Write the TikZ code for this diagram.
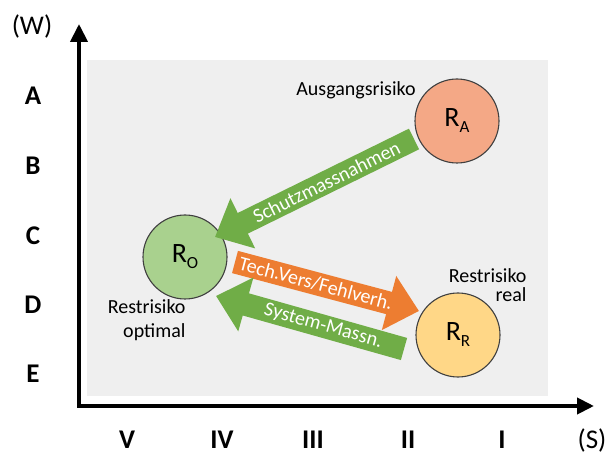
\documentclass[tikz,border=0pt]{standalone}
\usepackage{fontspec}
\setmainfont{Carlito}
\usetikzlibrary{arrows.meta}

\definecolor{panelgray}{HTML}{EFEFEF}
\definecolor{arrowgreen}{HTML}{70AD47}
\definecolor{arroworange}{HTML}{ED7D31}
\definecolor{fillA}{HTML}{F4A886}
\definecolor{fillO}{HTML}{A9D18E}
\definecolor{fillR}{HTML}{FFD787}

% lowered subscript letter for the risk labels
\newcommand\risksub[1]{{\fontsize{17}{17}\selectfont\raisebox{-6pt}{#1}}}

\begin{document}
\begin{tikzpicture}[x=1pt, y=-1pt,
  risk/.style={circle, draw=black!75, line width=1.1pt, minimum size=84pt,
    inner sep=0pt, font=\fontsize{28}{28}\selectfont},
  axislabel/.style={font=\fontsize{27}{27}\selectfont\bfseries},
  axisname/.style={font=\fontsize{27}{27}\selectfont},
  note/.style={font=\fontsize{20}{24}\selectfont, align=right},
  blockarrow/.style={line width=23pt, -{Triangle[length=31pt,width=54pt]}},
  arrowtext/.style={sloped, text=white, font=\fontsize{20}{20}\selectfont},
  axisline/.style={line width=4pt, line join=miter}]

\useasboundingbox (0,0) rectangle (611,457);

% background panel
\fill[panelgray] (87,60) rectangle (548,396);

% axes
\coordinate (origin) at (79,406);
\coordinate (ytop) at (79,24);
\coordinate (xend) at (594,406);
\draw[axisline, {Triangle[length=18pt,width=17pt]}-{Triangle[length=17pt,width=16pt]}]
  (ytop) -- (origin) -- (xend);

% axis labels
\node[axisname] (wlabel) at (32,27) {(W)};
\node[axislabel] (la) at (33,96) {A};
\node[axislabel] (lb) at (33,166) {B};
\node[axislabel] (lc) at (33,236) {C};
\node[axislabel] (ld) at (33,305) {D};
\node[axislabel] (le) at (33,374) {E};

\node[axislabel] (l5) at (127,440) {V};
\node[axislabel] (l4) at (222,440) {IV};
\node[axislabel] (l3) at (313,440) {III};
\node[axislabel] (l2) at (408,440) {II};
\node[axislabel] (l1) at (502,440) {I};
\node[axisname] (slabel) at (592,440) {(S)};

% risk circles
\node[risk, fill=fillA] (RA) at (457,121) {R\risksub{A}};
\node[risk, fill=fillO] (RO) at (185,257) {R\risksub{O}};
\node[risk, fill=fillR] (RR) at (458,335) {R\risksub{R}};

% captions
\node[note, anchor=center] (capA) at (356,90) {Ausgangsrisiko};
\node[note, anchor=north east] (capO) at (189,296) {Restrisiko\\optimal};
\node[note, anchor=north east, font=\fontsize{20}{19}\selectfont] (capR) at (530,265) {Restrisiko\\real};

% block arrows
\coordinate (s1) at (414,139);
\coordinate (s2) at (215,237);
\draw[blockarrow, arrowgreen] (s1) -- node[arrowtext, pos=0.44] {Schutzmassnahmen} (s2);

\coordinate (t1) at (235,262);
\coordinate (t2) at (419,311);
\draw[blockarrow, arroworange] (t1) -- node[arrowtext, pos=0.44] {Tech.Vers/Fehlverh.} (t2);

\coordinate (m1) at (404,349);
\coordinate (m2) at (216,296);
\draw[blockarrow, arrowgreen] (m1) -- node[arrowtext, pos=0.43] {System-Massn.} (m2);

\end{tikzpicture}
\end{document}
